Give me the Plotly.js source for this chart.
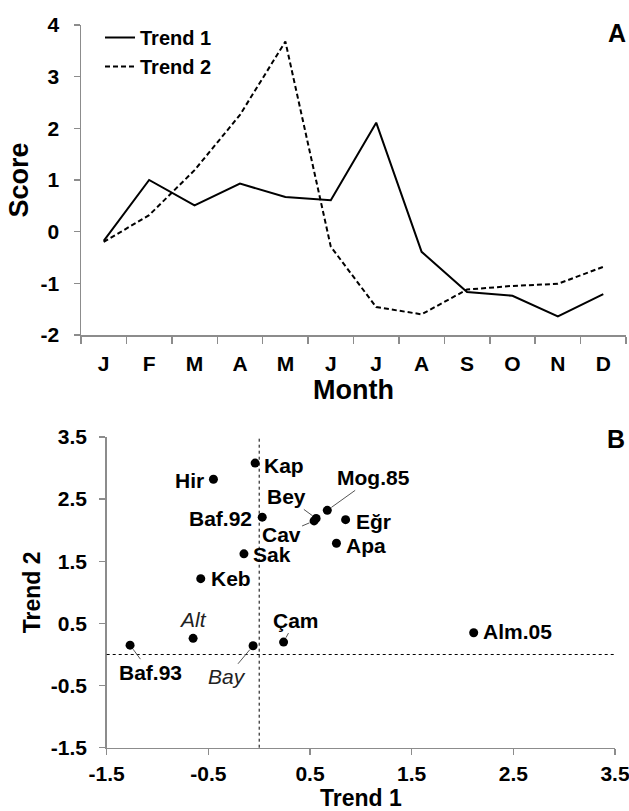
<!DOCTYPE html>
<html><head><meta charset="utf-8">
<script src="https://cdn.plot.ly/plotly-3.0.1.min.js"></script>
<style>html,body{margin:0;padding:0;background:#fff}</style>
</head><body><div id="chart" style="width:629px;height:811px"></div>
<script>
// ---- data ----
const months = ['J','F','M','A','M','J','J','A','S','O','N','D'];
const trend1 = [-0.18, 1.00, 0.51, 0.93, 0.67, 0.61, 2.11, -0.39, -1.17, -1.24, -1.64, -1.21];
const trend2 = [-0.20, 0.32, 1.19, 2.26, 3.68, -0.29, -1.46, -1.60, -1.12, -1.05, -1.01, -0.68];
const scoreTicks = [-2, -1, 0, 1, 2, 3, 4];
const scoreTickText = ['-2', '-1', '0', '1', '2', '3', '4'];
const sites      = ['Kap','Hir','Mog.85','Bey','Cav','Baf.92','Eğr','Apa','Sak','Keb','Alt','Baf.93','Bay','Çam','Alm.05'];
const siteTrend1 = [-0.04, -0.45, 0.67, 0.56, 0.54, 0.03, 0.85, 0.76, -0.15, -0.575, -0.65, -1.27, -0.06, 0.24, 2.11];
const siteTrend2 = [3.08, 2.82, 2.32, 2.19, 2.15, 2.21, 2.17, 1.79, 1.62, 1.22, 0.26, 0.15, 0.14, 0.20, 0.35];
const trendTicks = [-1.5, -0.5, 0.5, 1.5, 2.5, 3.5];
const trendTickText = ['-1.5', '-0.5', '0.5', '1.5', '2.5', '3.5'];
const italicSites = ['Alt','Bay'];

// ---- label placement (pixels) ----
const place = {
  'Kap':   {side:'left',  dx:7,  dy:-2},
  'Hir':   {side:'right', dx:-7, dy:-1},
  'Baf.92':{side:'right', dx:-8, dy:-1},
  'Sak':   {side:'left',  dx:7,  dy:-1},
  'Keb':   {side:'left',  dx:8,  dy:0},
  'Eğr':   {side:'left',  dx:8,  dy:-2},
  'Apa':   {side:'left',  dx:8,  dy:-2},
  'Alm.05':{side:'left',  dx:7,  dy:1},
  'Alt':   {side:'center',dx:0,  dy:19},
  'Mog.85':{lead:true, ax:46,  ay:-33},
  'Bey':   {lead:true, ax:-30, ay:-22},
  'Cav':   {lead:true, ax:-33, ay:14},
  'Baf.93':{lead:true, ax:20,  ay:27},
  'Bay':   {lead:true, ax:-26, ay:31},
  'Çam':   {lead:true, ax:12,  ay:-22}
};

const FONT = 'Liberation Sans, Arial, sans-serif';
const AXC = '#8c8c8c';
const W = 629, H = 811;
const px = (a,b)=>[a/W, b/W];
const py = (top,bot)=>[1-bot/H, 1-top/H];

const xIdx = months.map((m,i)=>i);
const xBounds = months.map((m,i)=>i-0.5).concat([months.length-0.5]);

const traces = [
  {x:xIdx, y:trend1, type:'scatter', mode:'lines', name:'Trend 1',
   line:{color:'#000', width:2}, xaxis:'x', yaxis:'y'},
  {x:xIdx, y:trend2, type:'scatter', mode:'lines', name:'Trend 2',
   line:{color:'#000', width:2, dash:'5px,3px'}, xaxis:'x', yaxis:'y'},
  {x:siteTrend1, y:siteTrend2, type:'scatter', mode:'markers', showlegend:false,
   marker:{color:'#000', size:9}, xaxis:'x2', yaxis:'y2'}
];

const LBL = 21;
const annotations = [];
sites.forEach((s,i)=>{
  const p = place[s];
  const it = italicSites.includes(s);
  const font = {family:FONT, size:LBL, color: it ? '#222' : '#000', weight: it ? 'normal' : 'bold', style: it ? 'italic' : 'normal'};
  if (p.lead) {
    annotations.push({xref:'x2', yref:'y2', x:siteTrend1[i], y:siteTrend2[i], text:s, font,
      showarrow:true, arrowhead:0, arrowwidth:1, arrowcolor:'#555', ax:p.ax, ay:p.ay, standoff:5});
  } else {
    annotations.push({xref:'x2', yref:'y2', x:siteTrend1[i], y:siteTrend2[i], text:s, font,
      showarrow:false, xanchor:p.side, yanchor:'middle', xshift:p.dx, yshift:p.dy});
  }
});
annotations.push({xref:'paper', yref:'paper', x:617/W, y:1-33/H, text:'A', showarrow:false,
  xanchor:'center', yanchor:'middle', font:{family:FONT, size:25, weight:'bold', color:'#000'}});
annotations.push({xref:'paper', yref:'paper', x:616/W, y:1-439/H, text:'B', showarrow:false,
  xanchor:'center', yanchor:'middle', font:{family:FONT, size:25, weight:'bold', color:'#000'}});

const tickFont = {family:FONT, size:21, weight:'bold', color:'#000'};
const baseAxis = {showgrid:false, zeroline:false, showline:true, linecolor:AXC, linewidth:1.5,
  ticks:'outside', tickcolor:AXC, ticklen:6, tickwidth:1.5, tickfont:tickFont, automargin:false,
  fixedrange:true, ticklabeloverflow:'allow'};

const layout = {
  width:W, height:H, margin:{l:0,r:0,t:0,b:0}, paper_bgcolor:'#fff', plot_bgcolor:'#fff',
  showlegend:true,
  legend:{x:100/W, y:1-18/H, xanchor:'left', yanchor:'top', bgcolor:'rgba(0,0,0,0)',
    font:{family:FONT, size:20, weight:'bold', color:'#000'}, tracegroupgap:0},
  xaxis:Object.assign({}, baseAxis, {domain:px(81,626), range:[-0.5,11.5], anchor:'y',
    tickmode:'array', tickvals:xIdx, ticktext:months, ticklen:0, ticks:'',
    minor:{tickmode:'array', tickvals:xBounds,
      ticks:'outside', ticklen:7, tickcolor:AXC, tickwidth:1.5, showgrid:false},
    ticklabelstandoff:9,
    title:{text:'Month', font:{family:FONT, size:27, weight:'bold', color:'#000'}, standoff:6}}),
  yaxis:Object.assign({}, baseAxis, {domain:py(25,335), range:[-2,4], anchor:'x',
    tickmode:'array', tickvals:scoreTicks, ticktext:scoreTickText, ticklabelstandoff:10,
    title:{text:'Score', font:{family:FONT, size:27, weight:'bold', color:'#000'}, standoff:4}}),
  xaxis2:Object.assign({}, baseAxis, {domain:px(106.7,615), range:[-1.5,3.5], anchor:'y2',
    tickmode:'array', tickvals:trendTicks, ticktext:trendTickText, ticklabelstandoff:1,
    title:{text:'Trend 1', font:{family:FONT, size:23, weight:'bold', color:'#000'}, standoff:0}}),
  yaxis2:Object.assign({}, baseAxis, {domain:py(437,747.7), range:[-1.5,3.5], anchor:'x2',
    tickmode:'array', tickvals:trendTicks, ticktext:trendTickText, ticklabelstandoff:8,
    title:{text:'Trend 2', font:{family:FONT, size:23, weight:'bold', color:'#000'}, standoff:4}}),
  shapes:[
    {type:'line', xref:'x2', yref:'y2 domain', x0:0, x1:0, y0:0, y1:1, line:{color:'#000', width:1, dash:'dot'}},
    {type:'line', xref:'x2 domain', yref:'y2', x0:0, x1:1, y0:0, y1:0, line:{color:'#000', width:1, dash:'dot'}}
  ],
  annotations
};

Plotly.newPlot('chart', traces, layout, {staticPlot:true, displayModeBar:false});
</script></body></html>
